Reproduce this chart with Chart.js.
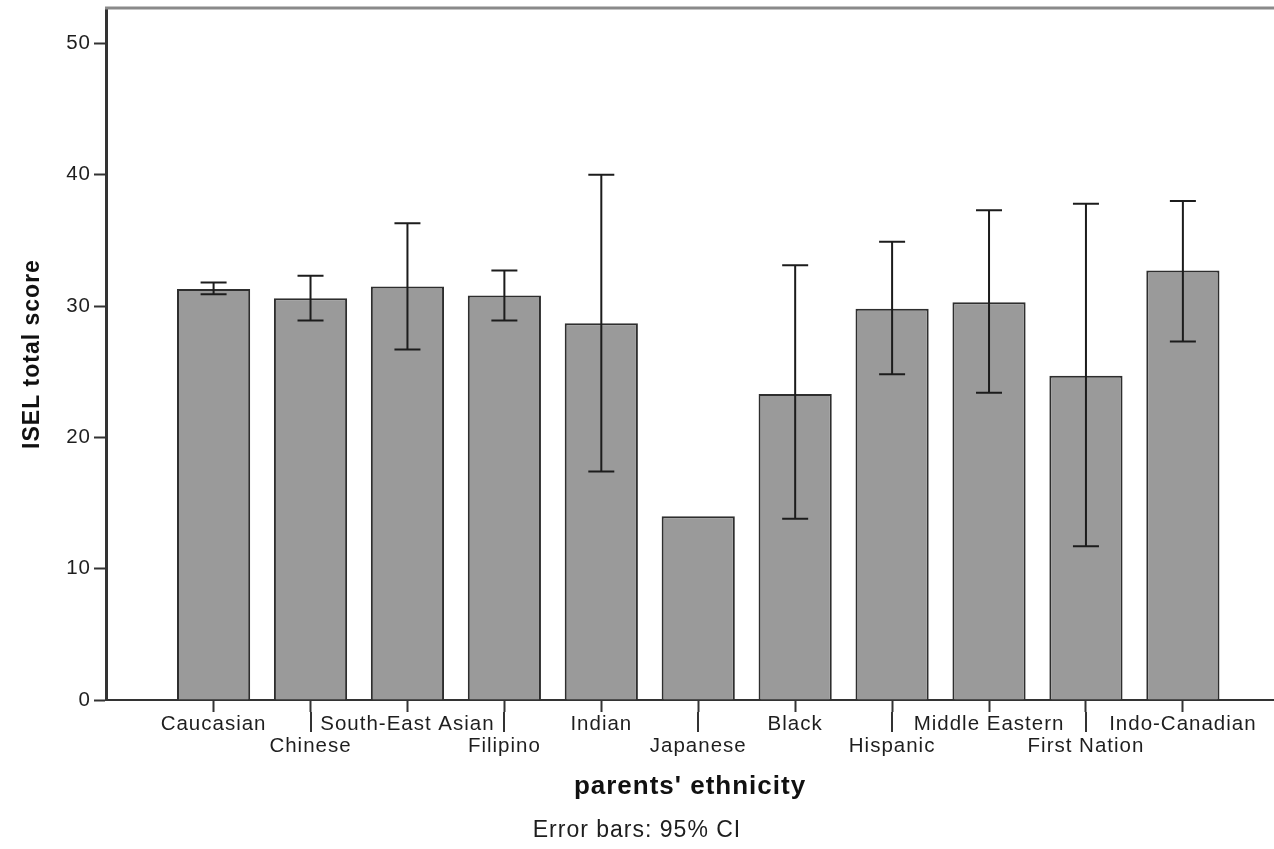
<!DOCTYPE html>
<html>
<head>
<meta charset="utf-8">
<script src="https://cdn.jsdelivr.net/npm/chart.js@4/dist/chart.umd.min.js"></script>
<style>
  html, body { margin: 0; padding: 0; background: #fff; }
  canvas { display: block; }
</style>
</head>
<body>
<canvas id="chart" width="1274" height="849"></canvas>
<script>
// Mean ISEL total score by parents' ethnicity, with 95% confidence intervals
const ethnicities = ['Caucasian', 'Chinese', 'South-East Asian', 'Filipino', 'Indian', 'Japanese',
                     'Black', 'Hispanic', 'Middle Eastern', 'First Nation', 'Indo-Canadian'];
const meanScores = [31.3, 30.6, 31.5, 30.8, 28.7, 14.0, 23.3, 29.8, 30.3, 24.7, 32.7];
const ciLower    = [30.9, 28.9, 26.7, 28.9, 17.4, null, 13.8, 24.8, 23.4, 11.7, 27.3];
const ciUpper    = [31.8, 32.3, 36.3, 32.7, 40.0, null, 33.1, 34.9, 37.3, 37.8, 38.0];
const yTickValues = [0, 10, 20, 30, 40, 50];

const FONT = '"Liberation Sans", Arial, Helvetica, sans-serif';
const INK = '#1e1e1e';
const AXIS = '#333';

// Slightly widened lettering, as in the SPSS output
const letterSpacing = {
  id: 'letterSpacing',
  beforeUpdate(chart) { chart.ctx.letterSpacing = '1px'; },
  beforeDraw(chart) { chart.ctx.letterSpacing = '1px'; }
};

// 95% CI whiskers with caps
const errorBars = {
  id: 'errorBars',
  afterDatasetsDraw(chart) {
    const { ctx, scales: { x, y } } = chart;
    ctx.save();
    ctx.strokeStyle = '#1c1c1c';
    ctx.lineWidth = 2;
    ctx.lineCap = 'butt';
    ciLower.forEach((lo, i) => {
      const hi = ciUpper[i];
      if (lo == null || hi == null) return;
      const px = x.getPixelForValue(i);
      const pLo = y.getPixelForValue(lo);
      const pHi = y.getPixelForValue(hi);
      const half = 13;
      ctx.beginPath();
      ctx.moveTo(px, pHi); ctx.lineTo(px, pLo);
      ctx.moveTo(px - half, pHi); ctx.lineTo(px + half, pHi);
      ctx.moveTo(px - half, pLo); ctx.lineTo(px + half, pLo);
      ctx.stroke();
    });
    ctx.restore();
  }
};

// Frame on top, and longer tick marks for the labels on the second row
const axisDecor = {
  id: 'axisDecor',
  afterDraw(chart) {
    const { ctx, chartArea, scales: { x } } = chart;
    ctx.save();
    ctx.strokeStyle = '#8a8a8a';
    ctx.lineWidth = 3;
    ctx.beginPath();
    ctx.moveTo(chartArea.left - 1, chartArea.top);
    ctx.lineTo(chartArea.right, chartArea.top);
    ctx.stroke();

    ctx.strokeStyle = AXIS;
    ctx.lineWidth = 2;
    ethnicities.forEach((_, i) => {
      if (i % 2 === 0) return;
      const px = Math.round(x.getPixelForValue(i));
      ctx.beginPath();
      ctx.moveTo(px, x.top + 12);
      ctx.lineTo(px, x.top + 32);
      ctx.stroke();
    });
    ctx.restore();
  }
};

new Chart(document.getElementById('chart'), {
  type: 'bar',
  data: {
    datasets: [{
      label: 'ISEL total score',
      data: meanScores.map((v, i) => ({ x: i, y: v })),
      backgroundColor: '#9a9a9a',
      borderColor: '#2e2e2e',
      borderWidth: 2,
      categoryPercentage: 1,
      barPercentage: 0.755
    }]
  },
  options: {
    responsive: false,
    animation: false,
    events: [],
    layout: { padding: { top: 8, right: 0, bottom: 0, left: 0 } },
    plugins: {
      legend: { display: false },
      tooltip: { enabled: false },
      subtitle: {
        display: true,
        position: 'bottom',
        text: 'Error bars: 95% CI',
        color: INK,
        font: { family: FONT, size: 23, weight: 'normal', lineHeight: 1.2 },
        padding: { top: 4, bottom: 5 }
      }
    },
    scales: {
      x: {
        type: 'linear',
        min: -1.11,
        max: 10.94,
        offset: false,
        afterBuildTicks: s => { s.ticks = ethnicities.map((_, i) => ({ value: i })); },
        afterFit: s => { s.height = 112.4; s.paddingLeft = 0; s.paddingRight = 0; },
        ticks: {
          autoSkip: false,
          maxRotation: 0,
          minRotation: 0,
          padding: 2,
          color: INK,
          font: { family: FONT, size: 20.5, lineHeight: 1.05 },
          callback: v => {
            const i = Math.round(v);
            return i % 2 ? ['', ethnicities[i]] : ethnicities[i];
          }
        },
        grid: { display: true, drawOnChartArea: false, drawTicks: true, tickLength: 12,
                tickColor: AXIS, tickWidth: 2, offset: false },
        border: { display: true, color: AXIS, width: 2 },
        title: {
          display: true,
          text: "parents' ethnicity",
          color: '#111',
          font: { family: FONT, size: 26, weight: 'bold', lineHeight: 1.2 },
          padding: { top: 18, bottom: 10 }
        }
      },
      y: {
        min: 0,
        max: 52.7,
        afterBuildTicks: s => { s.ticks = yTickValues.map(v => ({ value: v })); },
        afterFit: s => { s.width = 106; s.paddingTop = 0; s.paddingBottom = 0; },
        ticks: {
          padding: 3,
          color: INK,
          font: { family: FONT, size: 20.5 }
        },
        grid: { display: true, drawOnChartArea: false, drawTicks: true, tickLength: 12,
                tickColor: AXIS, tickWidth: 2 },
        border: { display: true, color: AXIS, width: 3 },
        title: {
          display: true,
          text: 'ISEL total score',
          color: '#111',
          font: { family: FONT, size: 23, weight: 'bold', lineHeight: 1.2 },
          padding: { top: 19, bottom: 0 }
        }
      }
    }
  },
  plugins: [letterSpacing, errorBars, axisDecor]
});
</script>
</body>
</html>
